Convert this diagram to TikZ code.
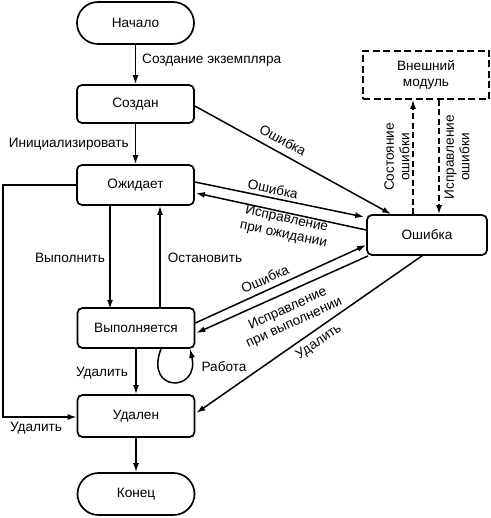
\documentclass[tikz,border=0pt]{standalone}
\usepackage{fontspec}
\setmainfont{Liberation Sans}
\usetikzlibrary{calc,arrows.meta}
\begin{document}
\begin{tikzpicture}[x=1pt,y=-1pt,
  every node/.style={font=\fontsize{13.6}{15.5}\selectfont},
  state/.style={draw,line width=1.7pt,rounded corners=5pt,minimum width=117pt,minimum height=40pt,inner sep=0pt},
  term/.style={draw,line width=1.7pt,rounded corners=21pt,minimum width=117pt,minimum height=42pt,inner sep=0pt},
  ext/.style={draw,line width=1.7pt,dash pattern=on 7pt off 3.5pt,minimum width=126pt,minimum height=48pt,inner sep=0pt,align=center},
  arr/.style={line width=1.5pt,-{Latex[length=9pt,width=6pt]}},
  darr/.style={arr,dash pattern=on 6pt off 3.5pt},
  lbl/.style={inner sep=1pt,align=center}]
\useasboundingbox (0,0) rectangle (490,518);
\node[term] (start) at (135.5,23) {Начало};
\node[state,minimum height=38pt] (created) at (135.5,104) {Создан};
\node[state] (waiting) at (135.5,185) {Ожидает};
\node[state] (running) at (136,328) {Выполняется};
\node[state,minimum height=42pt] (deleted) at (136,416) {Удален};
\node[term] (end) at (136,494) {Конец};
\node[state,minimum width=120pt] (error) at (427,235) {Ошибка};
\node[ext] (extm) at (426,75) {Внешний\\модуль};

% vertical flow
\draw[arr] (start) -- (created);
\node[lbl,anchor=west] (l1) at (141,60) {Создание экземпляра};
\draw[arr] (created) -- (waiting);
\node[lbl,anchor=east] (l2) at (130,144) {Инициализировать};
\draw[arr] ($(waiting.south)+(-25.5,0)$) -- ($(running.south)+(-26,-40)$);
\node[lbl] (l3) at (70,258) {Выполнить};
\draw[arr] ($(running.north)+(24,0)$) -- ($(waiting.south)+(24.5,0)$);
\node[lbl] (l4) at (205,258) {Остановить};
\draw[arr] (running) -- (deleted);
\node[lbl] (l5) at (102,373) {Удалить};
\draw[arr] (deleted) -- (end);

% self loop
\draw[arr] ($(running.south)+(25,0)$) .. controls ($(running.south)+(8,44)$) and ($(running.south)+(64,44)$) .. ($(running.south)+(54,0)$);
\node[lbl] (l6) at (224,367) {Работа};

% left bypass
\coordinate (lb1) at (3,185);
\coordinate (lb2) at (3,417);
\draw[arr] (waiting.west) -- (lb1) -- (lb2) -- ($(deleted.west)+(0,1)$);
\node[lbl] (l7) at (36,428) {Удалить};

% to/from error
\draw[arr] ($(created.east)+(0,2)$) -- ($(error.north west)+(25,0)$);
\node[lbl,rotate=-29] (l8) at (283,140) {Ошибка};
\draw[arr] ($(waiting.east)+(0,-3)$) -- ($(error.west)+(-2,-18)$);
\node[lbl,rotate=-11.5] (l9) at (273,189) {Ошибка};
\draw[arr] ($(error.west)+(0,-5)$) -- ($(waiting.east)+(1,8)$);
\node[lbl,rotate=-12,inner sep=0pt] (l10) at (285,227) {Исправление\\при ожидании};
\draw[arr] ($(running.east)+(0,-5)$) -- ($(error.west)+(0,10)$);
\node[lbl,rotate=24.5] (l11) at (265,279) {Ошибка};
\draw[arr] ($(error.south west)+(2,0)$) -- ($(running.east)+(1,5)$);
\node[lbl,rotate=24.5,inner sep=0pt] (l12) at (291,316) {Исправление\\при выполнении};
\draw[arr] ($(error.south)+(-5,0)$) -- ($(deleted.east)+(1,-3)$);
\node[lbl,rotate=34.5] (l13) at (319,342) {Удалить};

% external module
\draw[darr] ($(error.north)+(-14,0)$) -- ($(extm.south)+(-13,0)$);
\node[lbl,rotate=90,inner sep=0pt,font=\fontsize{13.6}{15.5}\selectfont] (l14) at (397,157) {Состояние\\ошибки};
\draw[darr] ($(extm.south)+(13,0)$) -- ($(error.north)+(12,0)$);
\node[lbl,rotate=90,inner sep=0pt,font=\fontsize{13.6}{15.5}\selectfont] (l15) at (457,157) {Исправление\\ошибки};
\end{tikzpicture}
\end{document}
